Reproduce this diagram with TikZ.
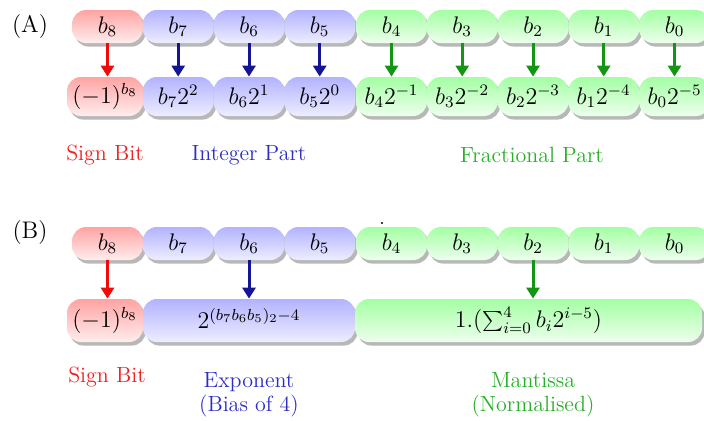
\documentclass[tikz,border=0pt]{standalone}
\usetikzlibrary{shadows,arrows.meta,positioning}
\definecolor{arRed}{RGB}{240,10,10}
\definecolor{arBlue}{RGB}{20,20,150}
\definecolor{arGreen}{RGB}{20,150,20}
\definecolor{txRed}{RGB}{240,30,30}
\definecolor{txBlue}{RGB}{45,45,195}
\definecolor{txGreen}{RGB}{40,175,40}
\tikzset{
  bitbox/.style={rounded corners=7pt, inner sep=0pt, minimum height=16.5pt, minimum width=35.4pt,
    font=\fontsize{12}{14}\selectfont,
    drop shadow={shadow xshift=1.3pt, shadow yshift=-1.8pt, fill=black, opacity=0.28}},
  valbox/.style={bitbox, minimum height=19.5pt},
  wbox/.style={bitbox, minimum height=21.5pt},
  redf/.style={top color=red!36, bottom color=red!7},
  bluef/.style={top color=blue!30, bottom color=blue!7},
  greenf/.style={top color=green!36, bottom color=green!7},
  arr/.style={line width=1.5pt, -{Triangle[width=6.5pt,length=5.5pt]}},
  lbl/.style={font=\fontsize{11}{13}\selectfont, inner sep=0pt},
  tag/.style={font=\fontsize{12}{14}\selectfont, inner sep=0pt}
}
\begin{document}
\begin{tikzpicture}[x=0.5pt,y=-0.5pt]
\useasboundingbox (0,0) rectangle (704,420);
\node[tag] (tA) at (30,27) {(A)};
\node[tag] (tB) at (30,232) {(B)};
% ---------- A top row
\node[bitbox,redf]   (a8) at (107.5,26.5) {$b_8$};
\node[bitbox,bluef]  (a7) at (178.2,26.5) {$b_7$};
\node[bitbox,bluef]  (a6) at (249.0,26.5) {$b_6$};
\node[bitbox,bluef]  (a5) at (319.7,26.5) {$b_5$};
\node[bitbox,greenf] (a4) at (391.5,26.5) {$b_4$};
\node[bitbox,greenf] (a3) at (462.2,26.5) {$b_3$};
\node[bitbox,greenf] (a2) at (533.0,26.5) {$b_2$};
\node[bitbox,greenf] (a1) at (603.7,26.5) {$b_1$};
\node[bitbox,greenf] (a0) at (674.5,26.5) {$b_0$};
% ---------- A bottom row
\node[valbox,redf,minimum width=38pt]   (v8) at (105,96.5) {$(-1)^{b_8}$};
\node[valbox,bluef]  (v7) at (178.2,96.5) {$b_7 2^{2}$};
\node[valbox,bluef]  (v6) at (249.0,96.5) {$b_6 2^{1}$};
\node[valbox,bluef]  (v5) at (319.7,96.5) {$b_5 2^{0}$};
\node[valbox,greenf] (v4) at (391.5,96.5) {$b_4 2^{-1}$};
\node[valbox,greenf] (v3) at (462.2,96.5) {$b_3 2^{-2}$};
\node[valbox,greenf] (v2) at (533.0,96.5) {$b_2 2^{-3}$};
\node[valbox,greenf] (v1) at (603.7,96.5) {$b_1 2^{-4}$};
\node[valbox,greenf] (v0) at (674.5,96.5) {$b_0 2^{-5}$};
% arrows A
\draw[arr,arRed]   (a8.south) -- (a8.south |- v8.north);
\draw[arr,arBlue]  (a7.south) -- (v7.north);
\draw[arr,arBlue]  (a6.south) -- (v6.north);
\draw[arr,arBlue]  (a5.south) -- (v5.north);
\draw[arr,arGreen] (a4.south) -- (v4.north);
\draw[arr,arGreen] (a3.south) -- (v3.north);
\draw[arr,arGreen] (a2.south) -- (v2.north);
\draw[arr,arGreen] (a1.south) -- (v1.north);
\draw[arr,arGreen] (a0.south) -- (v0.north);
% labels A
\node[lbl,txRed]   (la1) at (105,155) {Sign Bit};
\node[lbl,txBlue]  (la2) at (249,155) {Integer Part};
\node[lbl,txGreen] (la3) at (532,155) {Fractional Part};
% ---------- B top row
\node[bitbox,redf]   (b8) at (107.5,243.5) {$b_8$};
\node[bitbox,bluef]  (b7) at (178.2,243.5) {$b_7$};
\node[bitbox,bluef]  (b6) at (249.0,243.5) {$b_6$};
\node[bitbox,bluef]  (b5) at (319.7,243.5) {$b_5$};
\node[bitbox,greenf] (b4) at (391.5,243.5) {$b_4$};
\node[bitbox,greenf] (b3) at (462.2,243.5) {$b_3$};
\node[bitbox,greenf] (b2) at (533.0,243.5) {$b_2$};
\node[bitbox,greenf] (b1) at (603.7,243.5) {$b_1$};
\node[bitbox,greenf] (b0) at (674.5,243.5) {$b_0$};
\fill (382,223) circle (1.1);
% ---------- B bottom row
\node[wbox,redf,minimum width=38pt] (sg) at (105,320.5) {\raisebox{2pt}{$(-1)^{b_8}$}};
\node[wbox,bluef,minimum width=106pt] (ex) at (249,320.5) {\raisebox{2pt}{$2^{(b_7 b_6 b_5)_2-4}$}};
\node[wbox,greenf,minimum width=173.5pt] (ma) at (528.5,320.5) {$1.(\sum_{i=0}^{4} b_i 2^{i-5})$};
% arrows B
\draw[arr,arRed]   (b8.south) -- (b8.south |- sg.north);
\draw[arr,arBlue]  (b6.south) -- (b6.south |- ex.north);
\draw[arr,arGreen] (b2.south) -- (b2.south |- ma.north);
% labels B
\node[lbl,txRed] (lb1) at (107,377) {Sign Bit};
\node[lbl,txBlue,align=center] (lb2) at (249,395) {Exponent\\[-1pt](Bias of 4)};
\node[lbl,txGreen,align=center] (lb3) at (533,395) {Mantissa\\[-1pt](Normalised)};
\end{tikzpicture}
\end{document}
